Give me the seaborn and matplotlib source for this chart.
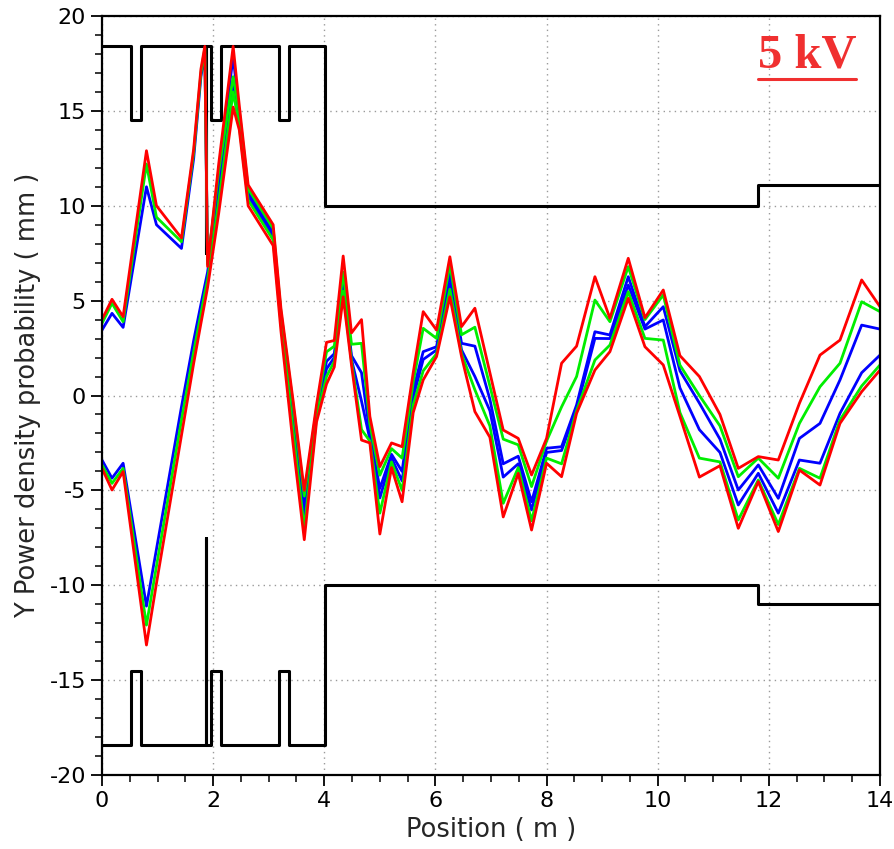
import numpy as np
import pandas as pd
import matplotlib
matplotlib.use("Agg")
import matplotlib.pyplot as plt
import seaborn as sns
from matplotlib.lines import Line2D
from matplotlib.ticker import MultipleLocator

# ---------------- data ----------------
pos = [0.00, 0.18, 0.38, 0.80, 0.98, 1.43, 1.65, 1.78, 1.85, 1.90,
       2.10, 2.36, 2.47, 2.63, 3.08, 3.22, 3.44, 3.64, 3.86, 4.04,
       4.18, 4.34, 4.49, 4.67, 4.82, 5.00, 5.21, 5.40, 5.60, 5.78,
       6.02, 6.26, 6.47, 6.71, 6.98, 7.22, 7.49, 7.73, 8.00, 8.27,
       8.54, 8.87, 9.14, 9.47, 9.77, 10.10, 10.40, 10.75, 11.12, 11.45,
       11.81, 12.17, 12.55, 12.92, 13.28, 13.67, 14.00]

red_upper = [4.0, 5.07, 4.15, 12.9, 10.0, 8.3, 13.0, 17.2, 18.4, 6.8,
             12.2, 18.4, 15.3, 11.1, 9.0, 4.6, -0.3, -5.0, -0.5, 2.8,
             2.9, 7.35, 3.3, 4.0, -1.1, -3.75, -2.5, -2.7, 1.2, 4.42,
             3.45, 7.31, 3.63, 4.6, 1.2, -1.82, -2.26, -4.19, -2.26, 1.7,
             2.6, 6.26, 4.07, 7.23, 4.1, 5.56, 2.1, 1.0, -1.0, -3.84,
             -3.22, -3.4, -0.41, 2.13, 2.92, 6.09, 4.68]
green_upper = [3.8, 4.86, 3.89, 12.2, 9.4, 8.1, 12.8, 17.0, 18.3, 6.9,
               11.8, 16.8, 15.0, 10.9, 8.8, 4.4, -0.5, -5.3, -0.7, 2.3,
               2.6, 6.5, 2.7, 2.75, -1.5, -4.2, -2.8, -3.3, 0.7, 3.54,
               3.01, 6.9, 3.2, 3.6, 0.5, -2.3, -2.6, -4.8, -2.4, -0.6,
               1.0, 5.03, 3.89, 6.79, 4.0, 5.3, 1.6, 0.0, -1.6, -4.28,
               -3.3, -4.36, -1.47, 0.46, 1.7, 4.94, 4.42]
blue_upper = [3.45, 4.33, 3.59, 11.0, 9.0, 7.75, 12.5, 16.8, 18.0, 7.0,
              11.5, 17.9, 14.8, 10.7, 8.6, 4.2, -0.8, -6.0, -0.9, 1.8,
              2.2, 5.9, 2.1, 1.2, -2.0, -4.9, -3.1, -4.0, 0.3, 2.31,
              2.57, 6.4, 2.75, 2.6, -0.2, -3.6, -3.2, -5.6, -2.78, -2.7,
              -0.5, 3.36, 3.19, 6.26, 3.63, 4.68, 1.3, -0.4, -2.3, -4.98,
              -3.66, -5.42, -2.26, -1.47, 0.82, 3.71, 3.5]
blue_lower = [-3.4, -4.36, -3.57, -11.1, -8.1, -0.6, 2.9, 4.8, 5.8, 6.5,
              10.8, 16.5, 14.5, 10.5, 8.4, 4.0, -1.3, -6.5, -1.0, 1.4,
              2.0, 5.6, 1.9, -0.3, -2.3, -5.4, -3.3, -4.5, -0.1, 1.9,
              2.4, 5.9, 2.4, 1.0, -0.8, -4.3, -3.6, -6.03, -3.0, -2.9,
              -0.7, 3.01, 3.0, 5.82, 3.5, 3.98, 0.4, -1.8, -3.0, -5.77,
              -4.1, -6.2, -3.4, -3.57, -0.94, 1.2, 2.13]
green_lower = [-3.66, -4.63, -3.84, -12.1, -9.0, -1.3, 2.3, 4.3, 5.4, 6.1,
               10.2, 16.0, 14.2, 10.3, 8.2, 3.8, -1.9, -7.0, -1.2, 1.0,
               1.8, 5.5, 1.8, -1.8, -2.4, -6.2, -3.5, -5.0, -0.5, 1.3,
               2.2, 5.6, 2.2, 0.3, -1.6, -5.68, -3.8, -6.6, -3.3, -3.6,
               -0.8, 1.87, 2.66, 5.47, 3.01, 2.92, -0.9, -3.3, -3.5, -6.56,
               -4.45, -6.8, -3.84, -4.36, -1.29, 0.5, 1.61]
red_lower = [-3.84, -4.98, -4.01, -13.15, -9.9, -2.1, 1.7, 3.8, 4.9, 5.7,
             9.6, 15.2, 14.0, 10.0, 7.9, 3.4, -2.6, -7.6, -1.4, 0.6,
             1.5, 5.2, 1.6, -2.35, -2.5, -7.3, -3.8, -5.6, -0.9, 0.82,
             2.05, 5.2, 2.05, -0.85, -2.2, -6.4, -4.1, -7.09, -3.57, -4.28,
             -0.94, 1.34, 2.31, 5.12, 2.57, 1.61, -1.1, -4.3, -3.7, -7.0,
             -4.54, -7.17, -3.93, -4.72, -1.47, 0.2, 1.34]

# aperture (black)
aper_x = [0.0, 0.52, 0.52, 0.70, 0.70, 1.87, 1.87, 1.87, 1.97, 1.97,
          2.15, 2.15, 3.19, 3.19, 3.37, 3.37, 4.02, 4.02, 11.8, 11.8, 14.0]
aper_top = [18.4, 18.4, 14.5, 14.5, 18.4, 18.4, 7.5, 18.4, 18.4, 14.5,
            14.5, 18.4, 18.4, 14.5, 14.5, 18.4, 18.4, 10.0, 10.0, 11.1, 11.1]
aper_bottom = [-18.4, -18.4, -14.5, -14.5, -18.4, -18.4, -7.5, -18.4, -18.4, -14.5,
               -14.5, -18.4, -18.4, -14.5, -14.5, -18.4, -18.4, -10.0, -10.0, -11.0, -11.0]

x_ticks = [0, 2, 4, 6, 8, 10, 12, 14]
y_ticks = [-20, -15, -10, -5, 0, 5, 10, 15, 20]
title_text = "5 kV"
x_label = "Position ( m )"
y_label = "Y Power density probability ( mm )"

# ---------------- build frames ----------------
series = {
    ("blue", "upper"): blue_upper, ("blue", "lower"): blue_lower,
    ("green", "upper"): green_upper, ("green", "lower"): green_lower,
    ("red", "upper"): red_upper, ("red", "lower"): red_lower,
}
rows = []
for (col, side), vals in series.items():
    for xv, yv in zip(pos, vals):
        rows.append({"x": xv, "y": yv, "color": col, "side": side})
df = pd.DataFrame(rows)

ap_rows = []
for i, xv in enumerate(aper_x):
    ap_rows.append({"x": xv, "y": aper_top[i], "side": "top", "order": i})
for i, xv in enumerate(aper_x):
    ap_rows.append({"x": xv, "y": aper_bottom[i], "side": "bottom", "order": i})
ap = pd.DataFrame(ap_rows)

# ---------------- plot ----------------
sns.set_style("white")
plt.rcParams["font.family"] = ["DejaVu Sans"]
plt.rcParams["axes.unicode_minus"] = False

W, H = 895, 849
fig = plt.figure(figsize=(W / 100, H / 100), dpi=100)
ax = fig.add_axes([102 / W, (H - 775) / H, (880 - 102) / W, (775 - 16) / H])

for side in ["top", "bottom"]:
    sub = ap[ap["side"] == side]
    sns.lineplot(data=sub, x="x", y="y", sort=False, estimator=None,
                 color="black", lw=2.2, ax=ax, legend=False)

palette = {"blue": "#0000ff", "green": "#00ee00", "red": "#ff0000"}
for col in ["blue", "green", "red"]:
    sub = df[df["color"] == col]
    sns.lineplot(data=sub, x="x", y="y", units="side", estimator=None,
                 color=palette[col], lw=2.0, ax=ax, legend=False)

ax.set_xlim(0, 14)
ax.set_ylim(-20, 20)
ax.set_xticks(x_ticks)
ax.set_yticks(y_ticks)
ax.xaxis.set_minor_locator(MultipleLocator(0.5))
ax.yaxis.set_minor_locator(MultipleLocator(1))
ax.tick_params(which="major", direction="out", length=8, width=1.3,
               labelsize=16, color="black", labelcolor="black")
ax.tick_params(which="minor", direction="out", length=5, width=1.1, color="black")
ax.tick_params(axis="x", which="both", bottom=True, top=False)
ax.tick_params(axis="y", which="both", left=True, right=False)
ax.grid(True, which="major", linestyle=(0, (1, 3)), color="#9a9a9a", linewidth=1.0)
for s in ax.spines.values():
    s.set_color("black")
    s.set_linewidth(1.6)

ax.set_xlabel(x_label, fontsize=18.5, labelpad=4)
ax.set_ylabel(y_label, fontsize=18.5, labelpad=6)

t = ax.text(0.906, 0.9315, title_text, transform=ax.transAxes, ha="center",
            va="baseline", fontsize=35, fontweight="bold",
            family=["Liberation Serif", "DejaVu Serif"], color="#f03030")
fig.canvas.draw()
bb = t.get_window_extent(renderer=fig.canvas.get_renderer())
uy = (bb.y0 - 1) / H
fig.add_artist(Line2D([bb.x0 / W, bb.x1 / W], [uy, uy], transform=fig.transFigure,
                      color="#f03030", lw=2.2))

fig.savefig("out.png", dpi=100)
